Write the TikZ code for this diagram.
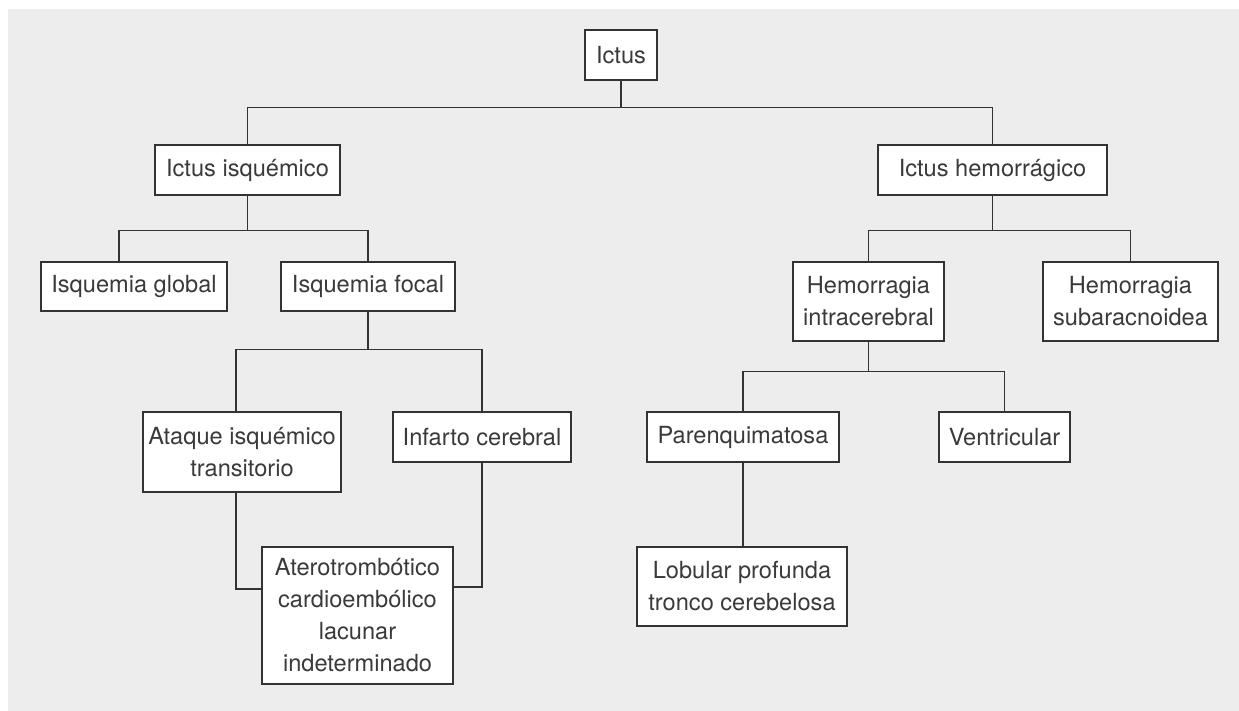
\documentclass[tikz,border=0pt]{standalone}
\usepackage{fontspec}
\setmainfont{TeX Gyre Heros}
\definecolor{bggray}{HTML}{EDEDED}
\definecolor{ink}{HTML}{333333}
\definecolor{textink}{HTML}{3A3A3A}
\begin{document}
\begin{tikzpicture}[x=1pt,y=-1pt,
  box/.style={draw=ink, line width=1.3pt, fill=white, inner sep=0pt, align=center,
    text=textink, font=\fontsize{23.6}{32}\selectfont},
  conn/.style={draw=ink, line width=1.3pt}]
\useasboundingbox (0,0) rectangle (1239,711);
\fill[bggray] (8,9) rectangle (1239,711);
% nodes
\node[box, minimum width=72pt, minimum height=50pt] (ictus) at (621,55) {Ictus};
\node[box, minimum width=185pt, minimum height=50pt] (isq) at (247.5,170) {Ictus isquémico};
\node[box, minimum width=229pt, minimum height=50pt] (hem) at (992.5,170) {Ictus hemorrágico};
\node[box, minimum width=186pt, minimum height=49pt] (glob) at (134,286.5) {Isquemia global};
\node[box, minimum width=174pt, minimum height=49pt] (focal) at (368,286.5) {Isquemia focal};
\node[box, minimum width=151pt, minimum height=79pt] (hic) at (868.5,301.5) {Hemorragia\\intracerebral};
\node[box, minimum width=175pt, minimum height=79pt] (hsa) at (1130.5,301.5) {Hemorragia\\subaracnoidea};
\node[box, minimum width=198pt, minimum height=80pt] (ati) at (242,452) {Ataque isquémico\\transitorio};
\node[box, minimum width=178pt, minimum height=50pt] (inf) at (482,437) {Infarto cerebral};
\node[box, minimum width=192pt, minimum height=50pt] (par) at (743,437) {Parenquimatosa};
\node[box, minimum width=131pt, minimum height=50pt] (ven) at (1004.5,437) {Ventricular};
\node[box, minimum width=191pt, minimum height=137pt] (atero) at (357.5,615.5) {Aterotrombótico\\cardioembólico\\lacunar\\indeterminado};
\node[box, minimum width=210pt, minimum height=79pt] (lob) at (742,586.5) {Lobular profunda\\tronco cerebelosa};
% connectors
\draw[conn] (ictus.south) -- ++(0,27) coordinate (j0);
\draw[conn] (isq.north) |- (j0) -| (hem.north);
\draw[conn] (isq.south) -- ++(0,35) coordinate (j1);
\draw[conn] ([xshift=-15pt]glob.north) |- (j1) -| (focal.north);
\draw[conn] (focal.south) -- ++(0,38) coordinate (j2);
\draw[conn] ([xshift=-6pt]ati.north) |- (j2) -| (inf.north);
\draw[conn] ([xshift=-6pt]ati.south) |- ([yshift=26.5pt]atero.west);
\draw[conn] (inf.south) |- ([yshift=28.5pt]atero.east);
\draw[conn] (hem.south) -- ++(0,35) coordinate (j3);
\draw[conn] (hic.north) |- (j3) -| (hsa.north);
\draw[conn] (hic.south) -- ++(0,30) coordinate (j4);
\draw[conn] (par.north) |- (j4) -| (ven.north);
\draw[conn] (par.south) -- (par.south |- lob.north);
\end{tikzpicture}
\end{document}
